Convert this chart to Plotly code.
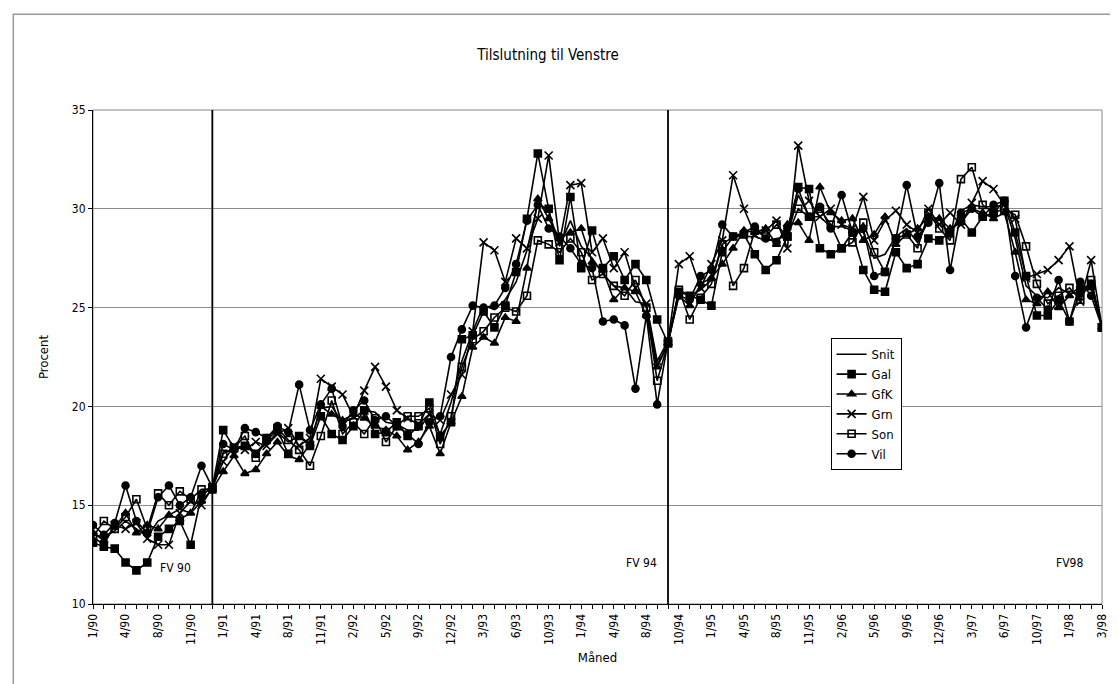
import plotly.graph_objects as go

# month categories (July missing, election months split in two)
months = [
    "1/90", "2/90", "3/90", "4/90", "5/90", "6/90", "8/90", "9/90", "10/90", "11/90", "12/90", "12/90",
    "1/91", "2/91", "3/91", "4/91", "5/91", "6/91", "8/91", "9/91", "10/91", "11/91", "12/91",
    "1/92", "2/92", "3/92", "4/92", "5/92", "6/92", "8/92", "9/92", "10/92", "11/92", "12/92",
    "1/93", "2/93", "3/93", "4/93", "5/93", "6/93", "8/93", "9/93", "10/93", "11/93", "12/93",
    "1/94", "2/94", "3/94", "4/94", "5/94", "6/94", "8/94", "9/94", "9/94",
    "10/94", "11/94", "12/94",
    "1/95", "2/95", "3/95", "4/95", "5/95", "6/95", "8/95", "9/95", "10/95", "11/95", "12/95",
    "1/96", "2/96", "3/96", "4/96", "5/96", "6/96", "8/96", "9/96", "10/96", "11/96", "12/96",
    "1/97", "2/97", "3/97", "4/97", "5/97", "6/97", "8/97", "9/97", "10/97", "11/97", "12/97",
    "1/98", "2/98", "3/98", "3/98",
]

snit = [13.5, 13.4, 13.7, 14.2, 13.8, 13.4, 14.2, 14.5, 14.8, 14.6, 15.7, 15.9,
        17.7, 17.8, 18.0, 17.7, 18.1, 18.7, 18.2, 18.5, 18.1, 19.9,
        20.0, 19.2, 19.4, 19.8, 19.7, 19.2, 19.1, 18.8, 18.8, 19.6, 18.6, 20.2,
        22.3, 23.8, 25.1, 24.9, 25.4, 26.3, 27.9, 30.3, 29.9, 28.1, 29.4, 28.1,
        27.5, 26.7, 26.1, 26.0, 25.3, 25.2, 22.0, 23.2,
        25.9, 25.6, 25.9, 26.4, 28.2, 28.6, 28.6, 28.6, 28.4, 28.5, 28.6, 30.7,
        29.6, 29.6, 29.1, 29.1, 28.9, 28.8, 27.5, 27.7, 28.6, 29.0, 28.3, 29.4,
        29.5, 28.6, 29.9, 30.2, 30.1, 30.1, 30.2, 28.5, 26.1, 25.6, 25.5, 26.0, 25.7, 25.8, 26.3, 24.0]

gal = [13.1, 12.9, 12.8, 12.1, 11.7, 12.1, 13.4, 13.8, 14.2, 13.0, 15.5, 15.9,
       18.8, 17.9, 18.0, 17.6, 18.3, 18.8, 17.6, 18.5, 18.0, 19.5,
       18.6, 18.3, 19.0, 19.8, 18.6, 18.7, 19.2, 18.5, 19.0, 20.2, 18.5, 19.2,
       23.4, 23.6, 24.8, 24.0, 25.1, 26.8, 29.5, 32.8, 30.0, 27.4, 30.6, 27.0,
       28.9, 27.0, 27.6, 26.4, 27.2, 26.4, 24.4, 23.2,
       25.8, 25.6, 25.4, 25.1, 27.8, 28.6, 28.7, 27.7, 26.9, 27.4, 28.6, 31.1,
       31.0, 28.0, 27.7, 28.0, 28.8, 26.9, 25.9, 25.8, 27.8, 27.0, 27.2, 28.5,
       28.4, 28.8, 29.5, 28.8, 29.6, 29.8, 30.4, 28.8, 26.6, 24.6, 24.6, 25.4, 24.3, 25.8, 26.2, 24.0]

gfk = [13.6, 13.2, 13.9, 14.6, 13.6, 14.0, 13.8, 14.5, 14.3, 14.6, 15.2, 15.8,
       16.7, 17.5, 16.6, 16.8, 17.6, 18.2, 17.5, 17.3, 18.1, 20.0,
       19.6, 19.3, 19.6, 19.4, 19.0, 18.8, 18.5, 17.8, 18.2, 19.0, 17.6, 19.2,
       20.5, 23.0, 23.5, 23.2, 24.5, 24.3, 27.0, 30.5, 29.5, 28.5, 28.8, 29.0,
       27.3, 26.9, 25.4, 26.0, 25.8, 24.6, 22.0, 23.2,
       25.6, 25.1, 26.2, 26.5, 27.2, 28.0, 28.9, 28.8, 29.0, 28.2, 29.2, 29.3,
       28.4, 31.1, 29.8, 29.4, 29.5, 28.4, 28.7, 29.6, 28.2, 28.7, 29.0, 29.6,
       29.5, 29.0, 29.3, 30.0, 29.8, 29.5, 29.8, 27.8, 25.4, 25.2, 25.8, 25.0, 25.6, 26.1, 26.0, 24.0]

grn = [13.4, 13.0, 14.0, 13.8, 14.1, 13.3, 13.0, 13.0, 14.6, 15.2, 15.0, 15.9,
       17.2, 18.0, 17.8, 18.2, 18.0, 18.6, 18.9, 18.0, 18.4, 21.4,
       21.0, 20.6, 19.5, 20.8, 22.0, 21.0, 19.8, 19.4, 19.1, 19.6, 19.3, 20.6,
       21.6, 23.8, 28.3, 27.9, 26.3, 28.5, 28.0, 29.5, 32.7, 28.3, 31.2, 31.3,
       27.8, 28.5, 27.0, 27.8, 26.0, 25.2, 22.3, 23.3,
       27.2, 27.6, 26.0, 27.2, 28.4, 31.7, 30.0, 28.7, 28.9, 29.4, 28.0, 33.2,
       30.4, 29.6, 30.0, 29.2, 29.0, 30.6, 28.4, 29.4, 29.9, 29.2, 28.8, 30.0,
       29.2, 29.8, 29.2, 30.3, 31.4, 31.0, 30.2, 29.5, 26.5, 26.7, 26.9, 27.4, 28.1, 25.3, 27.4, 24.0]

son = [13.4, 14.2, 13.8, 14.4, 15.3, 13.8, 15.6, 15.0, 15.7, 15.3, 15.8, 15.8,
       17.6, 17.9, 18.5, 17.4, 18.4, 18.9, 18.3, 17.8, 17.0, 18.5,
       20.3, 18.6, 19.2, 18.6, 19.4, 18.2, 19.0, 19.5, 19.5, 19.9, 18.1, 19.5,
       22.0, 23.4, 23.8, 24.5, 25.0, 24.8, 25.6, 28.4, 28.2, 27.8, 28.5, 27.8,
       26.4, 26.7, 26.1, 25.6, 26.4, 25.0, 21.3, 23.2,
       25.9, 24.4, 25.5, 26.2, 28.2, 26.1, 27.0, 28.9, 28.6, 29.2, 28.6, 30.0,
       29.6, 30.0, 29.2, 28.0, 28.3, 29.3, 27.8, 26.8, 28.5, 28.7, 28.0, 29.8,
       29.0, 28.4, 31.5, 32.1, 30.2, 29.8, 30.0, 29.7, 28.1, 26.2, 25.2, 25.6, 26.0, 25.4, 26.4, 24.0]

vil = [14.0, 13.5, 14.1, 16.0, 14.2, 13.6, 15.4, 16.0, 15.0, 15.4, 17.0, 15.9,
       18.1, 17.8, 18.9, 18.7, 18.4, 19.0, 18.7, 21.1, 18.8, 20.1,
       20.9, 19.0, 19.8, 20.3, 19.3, 19.5, 19.0, 18.6, 18.1, 19.2, 19.5, 22.5,
       23.9, 25.1, 25.0, 25.1, 26.0, 27.2, 29.4, 30.2, 29.0, 28.6, 28.0, 27.2,
       27.0, 24.3, 24.4, 24.1, 20.9, 24.6, 20.1, 23.3,
       25.6, 25.4, 26.6, 26.9, 29.2, 28.6, 28.8, 29.1, 28.5, 28.3, 29.0, 31.0,
       29.6, 30.1, 29.0, 30.7, 28.8, 29.0, 26.6, 26.8, 28.5, 31.2, 28.6, 29.3,
       31.3, 26.9, 29.8, 30.0, 29.6, 30.2, 30.4, 26.6, 24.0, 25.5, 24.9, 26.4, 24.3, 26.3, 25.6, 24.0]

series = [
    ("Snit", snit, None),
    ("Gal", gal, "square"),
    ("GfK", gfk, "triangle-up"),
    ("Grn", grn, "x-thin"),
    ("Son", son, "square-open"),
    ("Vil", vil, "circle"),
]

FONT = "DejaVu Sans Condensed, Liberation Sans Narrow, Liberation Sans, Arial, sans-serif"
x = list(range(len(months)))

fig = go.Figure()
for name, vals, sym in series:
    if sym is None:
        fig.add_trace(go.Scatter(x=x, y=vals, name=name, mode="lines",
                                 line=dict(color="black", width=1.6)))
    else:
        fig.add_trace(go.Scatter(
            x=x, y=vals, name=name, mode="lines+markers",
            line=dict(color="black", width=1.6),
            marker=dict(symbol=sym, size=7 if sym != "x-thin" else 8, color="black",
                        line=dict(color="black", width=1.6)),
        ))

# election lines
for xv in [11, 53]:
    fig.add_shape(type="line", xref="x", yref="paper", x0=xv, x1=xv, y0=0, y1=1,
                  line=dict(color="black", width=1.8))

# plot frame and chart border
fig.add_shape(type="rect", xref="paper", yref="paper", x0=0, x1=1, y0=0, y1=1,
              line=dict(color="#888888", width=1), layer="below")
fig.add_shape(type="rect", xref="paper", yref="paper", x0=-0.079, x1=1.022, y0=-0.172, y1=1.194,
              line=dict(color="#9a9a9a", width=1.5))

for txt, xv, yv in [("FV 90", 7.6, 11.8), ("FV 94", 50.6, 12.1), ("FV98", 90, 12.1)]:
    fig.add_annotation(x=xv, y=yv, text=txt, showarrow=False,
                       font=dict(family=FONT, size=12, color="black"))

fig.update_layout(
    width=1118, height=684,
    margin=dict(l=85, r=24, t=102, b=88),
    paper_bgcolor="white", plot_bgcolor="white",
    font=dict(family=FONT, color="black", size=12),
    title=dict(text="Tilslutning til Venstre", x=0.483, xref="container", y=0.931,
               yref="container", xanchor="center", yanchor="middle",
               font=dict(family=FONT, size=15, color="black")),
    showlegend=True,
    legend=dict(x=0.731, y=0.538, xanchor="left", yanchor="top",
                bgcolor="white", bordercolor="black", borderwidth=1,
                font=dict(family=FONT, size=13, color="black"),
                tracegroupgap=0, itemwidth=30),
    xaxis=dict(range=[0, 93], tickvals=x[::3], ticktext=months[::3], tickangle=-90,
               showgrid=False, zeroline=False, showline=True, linecolor="black", linewidth=1.2,
               ticks="outside", ticklen=4, tickcolor="black",
               minor=dict(ticks="outside", dtick=1, tick0=0, ticklen=4, tickcolor="black"),
               tickfont=dict(family=FONT, size=12),
               title=dict(text="Måned", font=dict(family=FONT, size=13), standoff=8)),
    yaxis=dict(range=[10, 35], dtick=5, showgrid=True, gridcolor="#8c8c8c", gridwidth=1.3,
               zeroline=False, showline=True, linecolor="black", linewidth=1.2,
               ticks="outside", ticklen=4, tickcolor="black",
               tickfont=dict(family=FONT, size=12),
               title=dict(text="Procent", font=dict(family=FONT, size=13), standoff=20)),
)

fig.write_html("out.html")
